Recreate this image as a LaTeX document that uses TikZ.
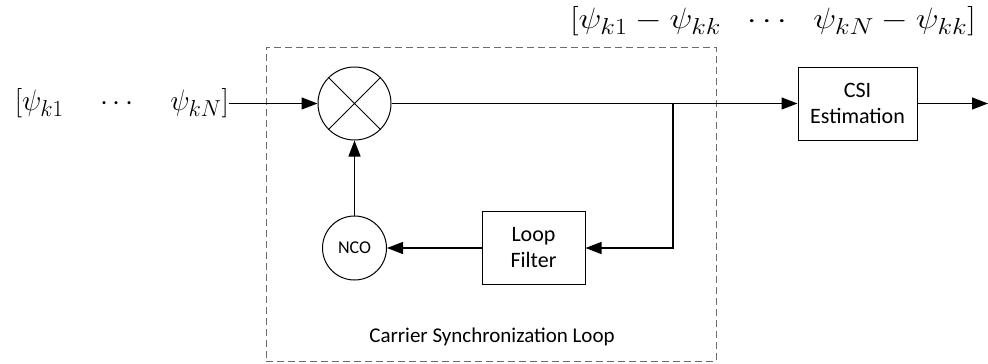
\documentclass[tikz,border=0pt]{standalone}
\usepackage{fix-cm}
\usepackage{graphicx}
\usepackage{fontspec}
\setmainfont{Carlito}
\DeclareMathSizes{28}{28}{22}{17}
\usetikzlibrary{arrows.meta}
\begin{document}
\begin{tikzpicture}[x=1pt,y=-1pt,
  line/.style={line width=1.3pt},
  arr/.style={line width=1.3pt,-{Triangle[length=16pt,width=12pt]}},
  blockbox/.style={draw,line width=1pt,minimum width=103pt,minimum height=73pt,align=center,font=\fontsize{22}{26}\selectfont,inner sep=0pt},
  roundnode/.style={draw,circle,line width=1pt,inner sep=0pt},
  lbl/.style={inner sep=0pt,font=\fontsize{28}{32}\selectfont}
]
\useasboundingbox (0,0) rectangle (988,364);
% dashed frame
\node[draw=gray!85!black,dash pattern=on 7pt off 4pt,line width=1pt,minimum width=450pt,minimum height=314pt,inner sep=0pt] (frame) at (491,204) {};
\node[font=\fontsize{21}{25}\selectfont,inner sep=0pt] (cap) at (492,337) {Carrier Synchronization Loop};
% blocks
\node[roundnode,minimum size=73pt] (mix) at (354.5,103.5) {};
\draw[line width=1pt] (mix.north west) -- (mix.south east) (mix.north east) -- (mix.south west);
\node[roundnode,minimum size=64pt,font=\fontsize{18}{22}\selectfont] (nco) at (354.5,248) {NCO};
\node[blockbox] (lf) at (533.5,248) {Loop\\Filter};
\node[blockbox,minimum width=119pt] (csi) at (857.5,103.5) {CSI\\Estimation};
% labels
\node[lbl,anchor=east] (in) at (229,103.5) {\scalebox{1.03}[1.05]{$[\psi_{k1}\hspace{1.1em}\cdots\hspace{1.1em}\psi_{kN}]$}};
\node[lbl,anchor=east] (top) at (976,21) {\scalebox{1.22}[1.05]{$[\psi_{k1}-\psi_{kk}\hspace{0.6em}\cdots\hspace{0.6em}\psi_{kN}-\psi_{kk}]$}};
\coordinate (br) at (673,103.5);
\coordinate (out) at (988,103.5);
% connectors
\draw[arr] (in.east) -- (mix.west);
\draw[line] (mix.east) -- (br);
\draw[arr] (br) -- (csi.west);
\draw[arr] (csi.east) -- (out);
\draw[arr] (br) |- (lf.east);
\draw[arr] (lf.west) -- (nco.east);
\draw[arr] (nco.north) -- (mix.south);
\end{tikzpicture}
\end{document}
